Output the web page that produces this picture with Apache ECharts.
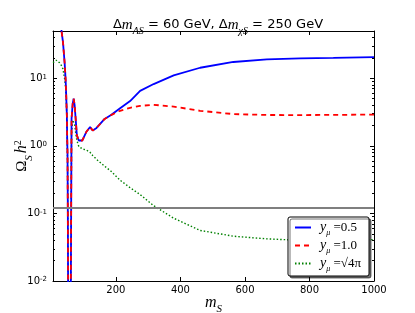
<!DOCTYPE html>
<html><head><meta charset="utf-8">
<script src="https://cdn.jsdelivr.net/npm/echarts@6/dist/echarts.min.js"></script>
<style>html,body{margin:0;padding:0;background:#fff;overflow:hidden;width:415px;height:313px}#c{position:absolute;left:0;top:0;width:415px;height:313px}</style>
</head><body><div id="c"></div>
<script>
// m_S values (GeV)
const mS = [5, 15, 25, 31, 36, 41, 44, 46, 48, 49, 50, 51, 52, 56, 60, 61, 62.5, 66, 69, 72, 75, 79, 85, 96, 108, 120, 128, 140, 165, 185, 213, 244, 275, 317, 379, 461, 564, 668, 771, 874, 1000];
// Omega_S h^2 for y_mu = 0.5
const omegaY05 = [300, 200, 90, 52, 34, 17, 9.8, 5.5, 2.8, 1.28, 0.77, 0.1, 0.005, 0.001, 0.005, 0.05, 2.5, 4.2, 5.0, 4.0, 2.6, 1.43, 1.2, 1.2, 1.6, 1.9, 1.68, 1.84, 2.5, 2.85, 3.6, 4.6, 6.5, 8.2, 11, 14.3, 17.4, 19, 19.7, 20, 20.5];
// Omega_S h^2 for y_mu = 1.0
const omegaY10 = [300, 200, 90, 52, 34, 17, 9.8, 5.5, 2.8, 1.28, 0.77, 0.1, 0.005, 0.001, 0.005, 0.05, 2.5, 4.2, 5.0, 4.0, 2.6, 1.43, 1.2, 1.2, 1.6, 1.9, 1.68, 1.84, 2.5, 2.85, 3.3, 3.65, 3.9, 4.05, 3.8, 3.3, 2.95, 2.86, 2.85, 2.87, 2.9];
// Omega_S h^2 for y_mu = sqrt(4 pi)
const omegaY4pi = [17, 18.5, 17, 15.5, 13.7, 9.8, 7.4, 5, 2.5, 1.1, 0.6, 0.08, 0.004, 0.001, 0.004, 0.04, 1.5, 2.4, 2.5, 2.1, 1.6, 1.2, 0.98, 0.9, 0.87, 0.8, 0.72, 0.63, 0.5, 0.42, 0.31, 0.24, 0.19, 0.13, 0.085, 0.056, 0.046, 0.042, 0.04, 0.04, 0.041];
const relicDensity = 0.12;
const xTicks = [200, 400, 600, 800, 1000];
const yMajorTicks = [0.01, 0.1, 1, 10];
const yMinorTicks = [0.02, 0.03, 0.04, 0.05, 0.06, 0.07, 0.08, 0.09, 0.2, 0.3, 0.4, 0.5, 0.6, 0.7, 0.8, 0.9, 2, 3, 4, 5, 6, 7, 8, 9, 20, 30, 40];
const seriesNames = ['y_mu=0.5', 'y_mu=1.0', 'y_mu=sqrt(4pi)'];
const legendLabels = ['{i|y}{sub|μ} =0.5', '{i|y}{sub|μ} =1.0', '{i|y}{sub|μ} =√4π'];

const X_MIN = 5, X_MAX = 1000, Y_MIN = 0.01, Y_MAX = 50;
const pair = (ys) => mS.map((x, i) => [x, ys[i]]);
const serif = 'Liberation Serif';
const sans = 'DejaVu Sans';

const baseX = {
  type: 'value', min: X_MIN, max: X_MAX, gridIndex: 0,
  axisLine: { show: true, onZero: false, lineStyle: { color: '#000', width: 1 } },
  axisTick: { show: true, inside: true, length: 4, customValues: xTicks, lineStyle: { color: '#000' } },
  splitLine: { show: false }
};
const baseY = {
  type: 'log', logBase: 10, min: Y_MIN, max: Y_MAX,
  axisLine: { show: true, lineStyle: { color: '#000', width: 1 } },
  splitLine: { show: false }, minorTick: { show: false }
};

const chart = echarts.init(document.getElementById('c'), null, { renderer: 'canvas', width: 415, height: 313 });
chart.setOption({
  animation: false,
  backgroundColor: '#fff',
  title: {
    text: 'Δ{i|m}{sub|AS} = 60 GeV, Δ{i|m}{sub|χS} = 250 GeV',
    left: 213, top: 12, textAlign: 'center',
    textStyle: {
      fontFamily: sans, fontSize: 13, fontWeight: 'normal', color: '#000', lineHeight: 16,
      rich: {
        i: { fontFamily: serif, fontStyle: 'italic', fontSize: 15, lineHeight: 16 },
        sub: { fontFamily: serif, fontStyle: 'italic', fontSize: 10, lineHeight: 10, verticalAlign: 'bottom', padding: [0, 0, -3, 0] }
      }
    }
  },
  grid: { left: 53, right: 41, top: 31, bottom: 32, containLabel: false, outerBoundsMode: 'none' },
  xAxis: [
    Object.assign({}, baseX, {
      position: 'bottom',
      axisLabel: { show: true, customValues: xTicks, margin: 4, color: '#000', fontFamily: sans, fontSize: 10, formatter: (v) => String(v) },
      name: '{i|m}{sub|S}', nameLocation: 'middle', nameGap: 12, nameMoveOverlap: false,
      nameTextStyle: {
        color: '#000', fontFamily: serif, fontSize: 15,
        rich: {
          i: { fontFamily: serif, fontStyle: 'italic', fontSize: 16, lineHeight: 18, verticalAlign: 'bottom' },
          sub: { fontFamily: serif, fontStyle: 'italic', fontSize: 11, lineHeight: 12, verticalAlign: 'bottom', padding: [0, 0, -4, 0] }
        }
      }
    }),
    Object.assign({}, baseX, { position: 'top', axisLabel: { show: false } })
  ],
  yAxis: [
    Object.assign({}, baseY, {
      position: 'left',
      axisTick: { show: true, inside: true, length: 4, customValues: yMajorTicks, lineStyle: { color: '#000' } },
      axisLabel: {
        show: true, customValues: yMajorTicks, margin: 6, color: '#000', fontFamily: sans, fontSize: 10,
        formatter: (v) => '10{sup|' + Math.round(Math.log10(v)) + '}',
        rich: { sup: { fontFamily: sans, fontSize: 7, verticalAlign: 'top', lineHeight: 8, color: '#000' } }
      },
      name: 'Ω{sub|S}{i|h}{sup|2}', nameLocation: 'middle', nameGap: 22, nameRotate: 90, nameMoveOverlap: false,
      nameTextStyle: {
        color: '#000', fontFamily: serif, fontSize: 15,
        rich: {
          i: { fontFamily: serif, fontStyle: 'italic', fontSize: 16, lineHeight: 18 },
          sub: { fontFamily: serif, fontStyle: 'italic', fontSize: 11, lineHeight: 12, verticalAlign: 'bottom', padding: [0, 2, -4, 0] },
          sup: { fontFamily: serif, fontSize: 10, lineHeight: 10, verticalAlign: 'top' }
        }
      }
    }),
    Object.assign({}, baseY, {
      position: 'right',
      axisTick: { show: true, inside: true, length: 4, customValues: yMajorTicks, lineStyle: { color: '#000' } },
      axisLabel: { show: false }
    }),
    Object.assign({}, baseY, {
      position: 'left', axisLine: { show: false },
      axisTick: { show: true, inside: true, length: 2, customValues: yMinorTicks, lineStyle: { color: '#000' } },
      axisLabel: { show: false }
    }),
    Object.assign({}, baseY, {
      position: 'right', axisLine: { show: false },
      axisTick: { show: true, inside: true, length: 2, customValues: yMinorTicks, lineStyle: { color: '#000' } },
      axisLabel: { show: false }
    })
  ],
  legend: {
    data: seriesNames,
    orient: 'vertical', left: 288, top: 217,
    padding: [3, 8, 3, 6], itemGap: 1, itemWidth: 16, itemHeight: 10,
    backgroundColor: '#fff', borderColor: '#000', borderWidth: 1, borderRadius: 2,
    shadowColor: 'rgba(0,0,0,0.55)', shadowBlur: 0, shadowOffsetX: 2, shadowOffsetY: 2,
    itemStyle: { opacity: 0 },
    formatter: (name) => legendLabels[seriesNames.indexOf(name)],
    textStyle: {
      color: '#000', fontFamily: serif, fontSize: 13, padding: [0, 0, 0, 4], lineHeight: 15,
      rich: {
        i: { fontFamily: serif, fontStyle: 'italic', fontSize: 14, lineHeight: 15 },
        sub: { fontFamily: serif, fontStyle: 'italic', fontSize: 8, lineHeight: 8, verticalAlign: 'bottom', padding: [0, 0, -2, 0] }
      }
    }
  },
  series: [
    { name: seriesNames[0], type: 'line', data: pair(omegaY05), showSymbol: false, symbol: 'none', clip: true,
      lineStyle: { color: '#0000ff', width: 1.8 }, itemStyle: { color: '#0000ff' }, z: 3 },
    { name: seriesNames[1], type: 'line', data: pair(omegaY10), showSymbol: false, symbol: 'none', clip: true,
      lineStyle: { color: '#ff0000', width: 1.8, type: [5, 4] }, itemStyle: { color: '#ff0000' }, z: 4 },
    { name: seriesNames[2], type: 'line', data: pair(omegaY4pi), showSymbol: false, symbol: 'none', clip: true,
      lineStyle: { color: '#008000', width: 1.4, type: [1.5, 2] }, itemStyle: { color: '#008000' }, z: 2 },
    { name: 'relic', type: 'line', data: [[X_MIN, relicDensity], [X_MAX, relicDensity]], showSymbol: false, symbol: 'none',
      lineStyle: { color: '#7f7f7f', width: 2 }, z: 5, silent: true }
  ]
});
</script></body></html>
